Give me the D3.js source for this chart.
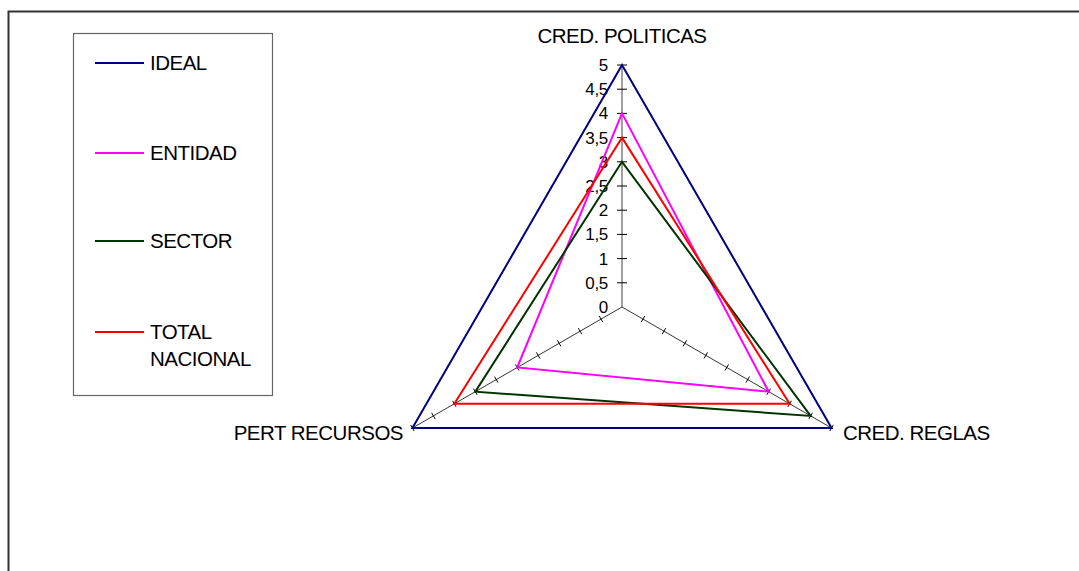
<!DOCTYPE html>
<html>
<head>
<meta charset="utf-8">
<script src="https://cdn.jsdelivr.net/npm/d3@7"></script>
<style>
  body { margin: 0; background: #fff; }
  svg { display: block; font-family: "Liberation Sans", Arial, sans-serif; }
</style>
</head>
<body>
<svg id="chart" width="1079" height="571"></svg>
<script>
// categories (clockwise from top)
var axes = ["CRED. POLITICAS", "CRED. REGLAS", "PERT RECURSOS"];
var seriesNames = ["IDEAL", "ENTIDAD", "SECTOR", "TOTAL NACIONAL"];
var ideal = [5, 5, 5];
var entidad = [4, 3.5, 2.5];
var sector = [3, 4.5, 3.5];
var totalNacional = [3.5, 4, 4];
var tickValues = [0, 0.5, 1, 1.5, 2, 2.5, 3, 3.5, 4, 4.5, 5];
var colors = ["#000080", "#FF00FF", "#003300", "#FF0000"];

var series = [ideal, entidad, sector, totalNacional];

var svg = d3.select("#chart");
var cx = 622, cy = 307;
var r = d3.scaleLinear().domain([0, 5]).range([0, 242]);
var fmt = function(v) { return String(v).replace(".", ","); };

// outer frame (partly cut off)
svg.append("path")
  .attr("d", "M8.5,571 L8.5,11.5 L1079,11.5")
  .attr("fill", "none").attr("stroke", "#333").attr("stroke-width", 2);

var g = svg.append("g").attr("transform", "translate(" + cx + "," + cy + ")");

function angle(i) { return i * 2 * Math.PI / axes.length; }
function pt(i, v) {
  var a = angle(i);
  return [r(v) * Math.sin(a), -r(v) * Math.cos(a)];
}

// axis spokes
axes.forEach(function(name, i) {
  var end = pt(i, 5);
  g.append("line")
    .attr("x1", 0).attr("y1", 0).attr("x2", end[0]).attr("y2", end[1])
    .attr("stroke", i === 0 ? "#808080" : "#000")
    .attr("stroke-width", i === 0 ? 1.5 : 0.8);
  // tick marks
  tickValues.slice(1).forEach(function(t) {
    var p = pt(i, t), a = angle(i);
    var len = i === 0 ? 5 : 3.5;
    var dx = Math.cos(a) * len, dy = Math.sin(a) * len;
    g.append("line")
      .attr("x1", p[0] - dx).attr("y1", p[1] - dy)
      .attr("x2", p[0] + dx).attr("y2", p[1] + dy)
      .attr("stroke", "#000").attr("stroke-width", 1);
  });
});

// tick labels on top axis
g.selectAll("text.tick").data(tickValues).enter().append("text")
  .attr("class", "tick")
  .attr("x", -14)
  .attr("y", function(d) { return -r(d) + 6; })
  .attr("text-anchor", "end")
  .attr("font-size", 17)
  .attr("letter-spacing", -0.3)
  .attr("fill", "#000")
  .text(fmt);

// category labels
var lab = [
  { x: 0, y: -264, anchor: "middle" },
  { x: 221, y: 133, anchor: "start" },
  { x: -219, y: 133, anchor: "end" }
];
axes.forEach(function(name, i) {
  g.append("text")
    .attr("x", lab[i].x).attr("y", lab[i].y)
    .attr("text-anchor", lab[i].anchor)
    .attr("font-size", 20.5).attr("fill", "#000")
    .attr("letter-spacing", -0.5)
    .text(name);
});

// series polygons
var line = d3.line().curve(d3.curveLinearClosed);
series.forEach(function(vals, s) {
  g.append("path")
    .attr("d", line(vals.map(function(v, i) { return pt(i, v); })))
    .attr("fill", "none")
    .attr("stroke", colors[s])
    .attr("stroke-width", 2);
});

// legend
svg.append("rect")
  .attr("x", 73.5).attr("y", 33.5).attr("width", 199).attr("height", 362)
  .attr("fill", "#fff").attr("stroke", "#666").attr("stroke-width", 1.2);
var legY = [63, 153, 241, 332];
seriesNames.forEach(function(name, s) {
  svg.append("line")
    .attr("x1", 95).attr("x2", 144).attr("y1", legY[s]).attr("y2", legY[s])
    .attr("stroke", colors[s]).attr("stroke-width", 2);
  var t = svg.append("text")
    .attr("x", 150).attr("y", legY[s] + 6.5)
    .attr("font-size", 20.5).attr("fill", "#000")
    .attr("letter-spacing", -0.5);
  var words = name.split(" ");
  words.forEach(function(w, k) {
    t.append("tspan").attr("x", 150).attr("dy", k === 0 ? 0 : 27).text(w);
  });
});
</script>
</body>
</html>
